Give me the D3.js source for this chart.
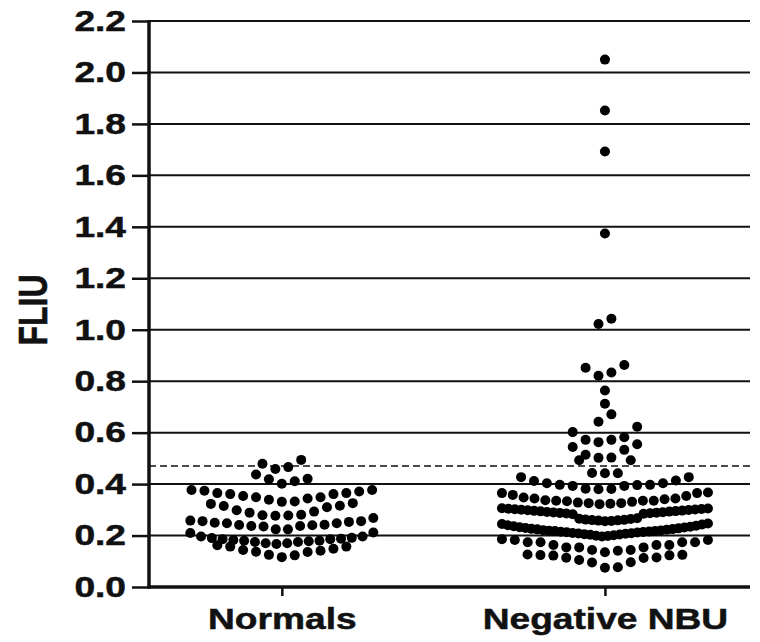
<!doctype html>
<html lang="en">
	<head>
		<meta charset="utf-8" />
		<title>FLIU - Normals vs Negative NBU</title>
		<script type="text/javascript" src="https://cdn.jsdelivr.net/npm/d3@7"></script>
		<style>
			body { margin: 0; background: #fff; }
			text { font-family: "Liberation Sans", Arial, sans-serif; font-weight: bold; fill: #111; stroke: #111; stroke-width: 0.5px; }
		</style>
	</head>

	<body>
		<script type="text/javascript">
			// categories and values
			var groups = ["Normals", "Negative NBU"];
			var yTicks = [0, 0.2, 0.4, 0.6, 0.8, 1.0, 1.2, 1.4, 1.6, 1.8, 2.0, 2.2];
			var cutoff = 0.47;

			var normals = [
				0.116, 0.123, 0.125, 0.136, 0.137, 0.141, 0.144, 0.149, 0.157, 0.157, 0.162,
				0.167, 0.170, 0.170, 0.175, 0.175, 0.178, 0.180, 0.180, 0.183, 0.186, 0.186, 0.188, 0.190, 0.191, 0.196, 0.196, 0.210, 0.212,
				0.224, 0.224, 0.235, 0.237, 0.237, 0.240, 0.241, 0.242, 0.248, 0.248, 0.250, 0.253, 0.256, 0.256, 0.258, 0.268,
				0.277, 0.278, 0.279, 0.281, 0.289, 0.293, 0.298, 0.310, 0.315, 0.316, 0.323, 0.326,
				0.331, 0.332, 0.339, 0.344, 0.349, 0.349, 0.354, 0.361, 0.361, 0.365, 0.365, 0.371, 0.374, 0.377, 0.377,
				0.401, 0.411, 0.419, 0.421, 0.437,
				0.459, 0.466, 0.479, 0.494
			];

			var negativeNBU = [
				0.075, 0.077, 0.095, 0.096, 0.105, 0.113, 0.114, 0.115, 0.122, 0.123, 0.124, 0.125, 0.126,
				0.135, 0.141, 0.144, 0.144, 0.154, 0.154, 0.154, 0.163, 0.163, 0.163, 0.174, 0.174, 0.174, 0.174, 0.183, 0.183, 0.186,
				0.196, 0.198, 0.199, 0.201, 0.203, 0.204, 0.205, 0.207, 0.208, 0.209, 0.210, 0.212, 0.213, 0.214, 0.215, 0.216, 0.218, 0.218,
				0.219, 0.220, 0.221, 0.223, 0.224, 0.225, 0.226, 0.228, 0.229, 0.231, 0.232, 0.234, 0.236, 0.238, 0.240, 0.243, 0.245, 0.247,
				0.256, 0.257, 0.258, 0.259, 0.260, 0.261, 0.262, 0.264, 0.265, 0.267,
				0.283, 0.285, 0.286, 0.287, 0.288, 0.289, 0.290, 0.291, 0.292, 0.293, 0.294, 0.295, 0.296, 0.297, 0.298, 0.299, 0.300,
				0.301, 0.302, 0.303, 0.304, 0.305, 0.306,
				0.322, 0.324, 0.326, 0.326, 0.328, 0.331, 0.333, 0.335, 0.335, 0.335, 0.337, 0.341, 0.344, 0.344, 0.348, 0.354, 0.358, 0.365, 0.365, 0.367,
				0.380, 0.381, 0.382, 0.393, 0.393, 0.396, 0.397, 0.397, 0.403, 0.403, 0.412, 0.414, 0.427, 0.427,
				0.442, 0.442, 0.443, 0.493, 0.493,
				0.502, 0.503, 0.514, 0.533, 0.544, 0.555,
				0.563, 0.572, 0.572, 0.582, 0.602, 0.623,
				0.642, 0.671, 0.712, 0.764,
				0.821, 0.834, 0.852, 0.863,
				1.022, 1.043, 1.374, 1.693, 1.852, 2.050
			];

			var w = 760;
			var h = 642;
			var margin = {left: 149, right: 10, top: 21, bottom: 55};
			var dotRadius = 5;
			var dotStep = 12.9;
			var textStretch = 1.28;

			// Prism-like scatter layout: bin each value into a row, then spread
			// the row sideways from the centre, smallest values in the middle
			var layout = {
				"Normals": {values: normals, binWidth: 0.055, binOrigin: 0.11, maxSpan: 183},
				"Negative NBU": {values: negativeNBU, binWidth: 0.0615, binOrigin: 0.0705, maxSpan: 206}
			};

			function swarm(group) {
				var cfg = layout[group];
				var rows = d3.groups(cfg.values, function(v) {
					return Math.floor((v - cfg.binOrigin) / cfg.binWidth);
				});
				var out = [];
				rows.forEach(function(row) {
					var vs = row[1].slice().sort(d3.ascending);
					var n = vs.length;
					var step = n > 1 ? Math.min(dotStep, cfg.maxSpan / (n - 1)) : 0;
					vs.forEach(function(v, i) {
						var slot;
						if (n % 2) {
							slot = i === 0 ? 0 : (i % 2 ? 1 : -1) * Math.ceil(i / 2);
						} else {
							slot = (i % 2 ? 1 : -1) * (Math.floor(i / 2) + 0.5);
						}
						out.push({group: group, value: v, dx: slot * step});
					});
				});
				return out;
			}

			function stretch(sel) {
				sel.each(function() {
					var len = this.getComputedTextLength();
					d3.select(this)
						.attr("textLength", len * textStretch)
						.attr("lengthAdjust", "spacingAndGlyphs");
				});
			}

			var svg = d3.select("body")
				.append("svg")
				.attr("width", w)
				.attr("height", h);

			var x = d3.scalePoint()
				.domain(groups)
				.range([margin.left, w - margin.right])
				.padding(0.43)
				.align(0.478);

			var y = d3.scaleLinear()
				.domain([0, 2.2])
				.range([h - margin.bottom, margin.top]);

			// horizontal grid lines
			svg.append("g")
				.selectAll("line")
				.data(yTicks.filter(function(d) { return d > 0; }))
				.enter()
				.append("line")
				.attr("x1", margin.left)
				.attr("x2", w - margin.right)
				.attr("y1", function(d) { return y(d); })
				.attr("y2", function(d) { return y(d); })
				.attr("stroke", "#111")
				.attr("stroke-width", 2);

			// cut-off line
			svg.append("line")
				.attr("x1", margin.left)
				.attr("x2", w - margin.right)
				.attr("y1", y(cutoff))
				.attr("y2", y(cutoff))
				.attr("stroke", "#111")
				.attr("stroke-width", 1.5)
				.attr("stroke-dasharray", "7,4");

			// y axis
			var yAxis = svg.append("g")
				.attr("transform", "translate(" + margin.left + ",0)")
				.call(d3.axisLeft(y)
					.tickValues(yTicks)
					.tickSize(17)
					.tickPadding(6)
					.tickFormat(d3.format(".1f")));
			yAxis.select(".domain").remove();
			yAxis.selectAll(".tick line").attr("stroke", "#111").attr("stroke-width", 2.5);
			yAxis.selectAll(".tick text")
				.attr("font-size", 29)
				.attr("font-family", null)
				.attr("fill", "#111")
				.call(stretch);
			svg.append("line")
				.attr("x1", margin.left)
				.attr("x2", margin.left)
				.attr("y1", y(2.2) - 1)
				.attr("y2", y(0) + 1.5)
				.attr("stroke", "#111")
				.attr("stroke-width", 3.5);

			// x axis
			var xAxis = svg.append("g")
				.attr("transform", "translate(0," + y(0) + ")")
				.call(d3.axisBottom(x).tickSize(9).tickPadding(12));
			xAxis.select(".domain").remove();
			xAxis.selectAll(".tick line").attr("stroke", "#111").attr("stroke-width", 2.5);
			xAxis.selectAll(".tick text")
				.attr("font-size", 29)
				.attr("font-family", null)
				.attr("fill", "#111")
				.call(stretch);
			svg.append("line")
				.attr("x1", margin.left - 1.5)
				.attr("x2", w - margin.right)
				.attr("y1", y(0))
				.attr("y2", y(0))
				.attr("stroke", "#111")
				.attr("stroke-width", 3.5);

			// axis title
			svg.append("text")
				.attr("transform", "translate(33," + (y(1.1) + 6) + ") scale(" + textStretch + ",1) rotate(-90)")
				.attr("text-anchor", "middle")
				.attr("dominant-baseline", "central")
				.attr("font-size", 32)
				.text("FLIU");

			// dots
			var points = swarm(groups[0]).concat(swarm(groups[1]));
			svg.append("g")
				.selectAll("circle")
				.data(points)
				.enter()
				.append("circle")
				.attr("cx", function(d) { return x(d.group) + d.dx; })
				.attr("cy", function(d) { return y(d.value); })
				.attr("r", dotRadius)
				.attr("fill", "#000");
		</script>
	</body>
</html>
